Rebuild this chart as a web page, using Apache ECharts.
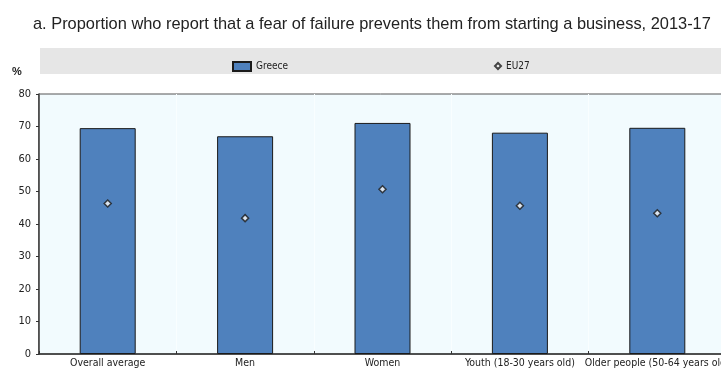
<!DOCTYPE html>
<html>
<head>
<meta charset="utf-8">
<script src="https://cdn.jsdelivr.net/npm/echarts@6/dist/echarts.min.js"></script>
<style>
  html, body { margin: 0; padding: 0; background: #fff; }
  #main { width: 721px; height: 369px; }
</style>
</head>
<body>
<div id="main"></div>
<script>
// 数据
var categories = ["Overall average", "Men", "Women", "Youth (18-30 years old)", "Older people (50-64 years old)"];
var greeceValues = [69.5, 67.0, 71.1, 68.1, 69.6];
var eu27Values = [46.3, 41.8, 50.7, 45.6, 43.3];
var yTicks = [0, 80, 10]; // min, max, interval

var narrowFont = "'Liberation Sans Narrow', 'DejaVu Sans Condensed', 'Roboto Condensed', 'Liberation Sans', sans-serif";

var chart = echarts.init(document.getElementById("main"));

var option = {
  animation: false,
  title: {
    text: "a. Proportion who report that a fear of failure prevents them from starting a business, 2013-17",
    left: 28,
    top: 11,
    textStyle: {
      fontFamily: "Liberation Sans",
      fontSize: 16.4,
      fontWeight: "normal",
      color: "#222"
    }
  },
  graphic: [
    {
      type: "rect",
      shape: { x: 40, y: 48, width: 690, height: 26 },
      style: { fill: "#e6e6e6" },
      z: -1
    },
    {
      type: "text",
      left: 12,
      top: 66,
      style: {
        text: "%",
        font: "bold 11px Liberation Sans",
        fill: "#222"
      }
    }
  ],
  legend: [
    {
      data: [{ name: "Greece", icon: "rect" }],
      left: 227,
      top: 56,
      itemWidth: 18,
      itemHeight: 9,
      itemGap: 6,
      textStyle: { fontFamily: narrowFont, fontSize: 10, color: "#222" }
    },
    {
      data: ["EU27"],
      left: 489,
      top: 56,
      itemWidth: 6,
      itemHeight: 6,
      itemGap: 3,
      textStyle: { fontFamily: narrowFont, fontSize: 10, color: "#222" }
    }
  ],
  grid: {
    left: 39,
    top: 94,
    width: 687,
    bottom: 15,
    containLabel: false,
    outerBoundsMode: "none",
    show: true,
    backgroundColor: "#f2fbfe",
    borderColor: "#555",
    borderWidth: 1
  },
  xAxis: {
    type: "category",
    data: categories,
    axisLine: { lineStyle: { color: "#333", width: 1.5 } },
    axisTick: { show: true, inside: true, length: 3, lineStyle: { color: "#333" } },
    axisLabel: {
      interval: 0,
      margin: 4,
      fontFamily: narrowFont,
      fontSize: 10.5,
      color: "#222"
    },
    splitLine: { show: true, lineStyle: { color: "#f9feff", width: 1 } }
  },
  yAxis: {
    type: "value",
    min: yTicks[0],
    max: yTicks[1],
    interval: yTicks[2],
    axisLine: { show: true, lineStyle: { color: "#333", width: 1.5 } },
    axisTick: { show: true, length: 3, lineStyle: { color: "#333" } },
    axisLabel: {
      margin: 8,
      fontFamily: narrowFont,
      fontSize: 11,
      color: "#222"
    },
    splitLine: { show: false }
  },
  series: [
    {
      name: "Greece",
      type: "bar",
      data: greeceValues,
      barWidth: 56,
      itemStyle: {
        color: "#4f81bd",
        borderColor: "#1a1a1a",
        borderWidth: 1
      }
    },
    {
      name: "EU27",
      type: "scatter",
      data: eu27Values,
      symbol: "diamond",
      symbolSize: 7,
      itemStyle: {
        color: "#ffffff",
        borderColor: "#1a1a1a",
        borderWidth: 1.5
      },
      z: 5
    }
  ]
};

chart.setOption(option);
</script>
</body>
</html>
